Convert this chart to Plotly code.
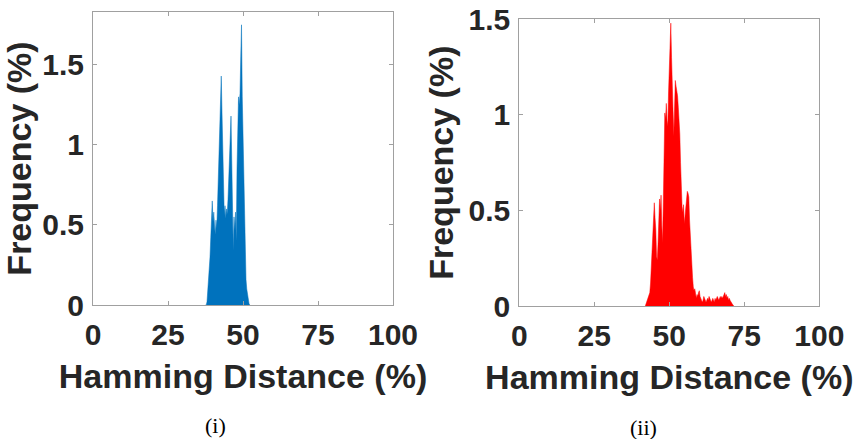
import numpy as np
import plotly.graph_objects as go

# Hamming distance bins (%), 0.25 % wide
left_start, right_start, bin_step = 37.5, 42.0, 0.25
left_freq = [0, 0, 0.02, 0.08, 0.15, 0.22, 0.30, 0.42, 0.55, 0.65,
             0.52, 0.58, 0.50, 0.44, 0.53, 0.48, 0.62, 0.80, 1.02, 1.16,
             1.30, 1.43, 1.20, 0.95, 0.75, 0.56, 0.62, 0.54, 0.60, 0.57,
             0.66, 0.80, 0.95, 1.08, 1.18, 0.90, 0.62, 0.34, 0.55, 0.47,
             0.58, 0.40, 0.85, 1.20, 1.30, 1.25, 1.32, 1.55, 1.75, 1.30,
             1.07, 0.70, 0.45, 0.22, 0.16, 0.10, 0.06, 0.03, 0.01, 0]
right_freq = [0, 0.01, 0.02, 0.03, 0.04, 0.05, 0.07, 0.12, 0.20, 0.30,
              0.44, 0.52, 0.54, 0.46, 0.40, 0.26, 0.24, 0.33, 0.45, 0.56,
              0.50, 0.58, 0.42, 0.33, 0.54, 0.82, 1.01, 0.98, 1.06, 0.97,
              0.94, 1.12, 1.25, 1.38, 1.48, 1.30, 1.20, 1.02, 0.89, 1.03,
              1.18, 1.15, 1.13, 1.10, 1.04, 0.98, 0.90, 0.75, 0.55, 0.52,
              0.49, 0.53, 0.43, 0.47, 0.50, 0.55, 0.60, 0.59, 0.57, 0.45,
              0.36, 0.28, 0.22, 0.15, 0.10, 0.08, 0.09, 0.07, 0.04, 0.06,
              0.05, 0.07, 0.08, 0.05, 0.04, 0.03, 0.02, 0.03, 0.05, 0.04,
              0.03, 0.02, 0.03, 0.04, 0.03, 0.05, 0.04, 0.03, 0.02, 0.03,
              0.04, 0.03, 0.02, 0.04, 0.03, 0.04, 0.05, 0.04, 0.03, 0.04,
              0.05, 0.04, 0.05, 0.04, 0.05, 0.06, 0.07, 0.05, 0.06, 0.04,
              0.05, 0.03, 0.04, 0.03, 0.02, 0.02, 0.01, 0.005, 0]
x_ticks = [0, 25, 50, 75, 100]
y_ticks_left = [0, 0.5, 1, 1.5]
y_ticks_right = [0, 0.5, 1, 1.5]
x_title = "Hamming Distance (%)"
y_title = "Frequency (%)"
captions = ["(i)", "(ii)"]

left_x = left_start + bin_step * np.arange(len(left_freq))
right_x = right_start + bin_step * np.arange(len(right_freq))

fig = go.Figure()
fig.add_trace(go.Scatter(x=left_x, y=left_freq, mode="lines", fill="tozeroy",
                         line=dict(color="#0072BD", width=0.5), fillcolor="#0072BD",
                         xaxis="x", yaxis="y", showlegend=False))
fig.add_trace(go.Scatter(x=right_x, y=right_freq, mode="lines", fill="tozeroy",
                         line=dict(color="#FF0000", width=0.5), fillcolor="#FF0000",
                         xaxis="x2", yaxis="y2", showlegend=False))

tickfont = dict(family="Liberation Sans", size=30, weight="bold", color="#262626")
titlefont = dict(family="Liberation Sans", size=34, weight="bold", color="#262626")
common = dict(showline=True, mirror="ticks", ticks="inside", ticklen=4, tickcolor="#a0a0a0",
              linecolor="#a0a0a0", linewidth=1, showgrid=False, zeroline=False,
              tickfont=tickfont, automargin=False)

fig.update_layout(
    width=856, height=439, margin=dict(l=0, r=0, t=0, b=0),
    paper_bgcolor="white", plot_bgcolor="white",
    xaxis=dict(domain=[93/856, 393/856], range=[0, 100], tickvals=x_ticks, ticklabelstandoff=3,
               title=dict(text=x_title, font=titlefont, standoff=14), anchor="y", **common),
    yaxis=dict(domain=[(439-305)/439, (439-12)/439], range=[0, 1.83], tickvals=y_ticks_left,
               ticktext=[f"{v:g}" for v in y_ticks_left], ticklabelstandoff=2,
               title=dict(text=y_title, font=titlefont, standoff=4), anchor="x", **common),
    xaxis2=dict(domain=[519.3/856, 819.3/856], range=[0, 100], tickvals=x_ticks, ticklabelstandoff=3,
                title=dict(text=x_title, font=titlefont, standoff=14), anchor="y2", **common),
    yaxis2=dict(domain=[(439-306)/439, (439-19.3)/439], range=[0, 1.5], tickvals=y_ticks_right,
                ticktext=[f"{v:g}" for v in y_ticks_right], ticklabelstandoff=2,
                title=dict(text=y_title, font=titlefont, standoff=4), anchor="x2", **common),
    annotations=[
        dict(text=captions[0], x=216/856, y=(439-425)/439, xref="paper", yref="paper",
             showarrow=False, xanchor="center", yanchor="middle",
             font=dict(family="Liberation Serif", size=22, color="#000000")),
        dict(text=captions[1], x=643.5/856, y=(439-427)/439, xref="paper", yref="paper",
             showarrow=False, xanchor="center", yanchor="middle",
             font=dict(family="Liberation Serif", size=22, color="#000000")),
    ],
)

fig.write_html("out.html", config={"displayModeBar": False},
               post_script="document.body.style.margin='0';document.body.style.overflow='hidden';")
